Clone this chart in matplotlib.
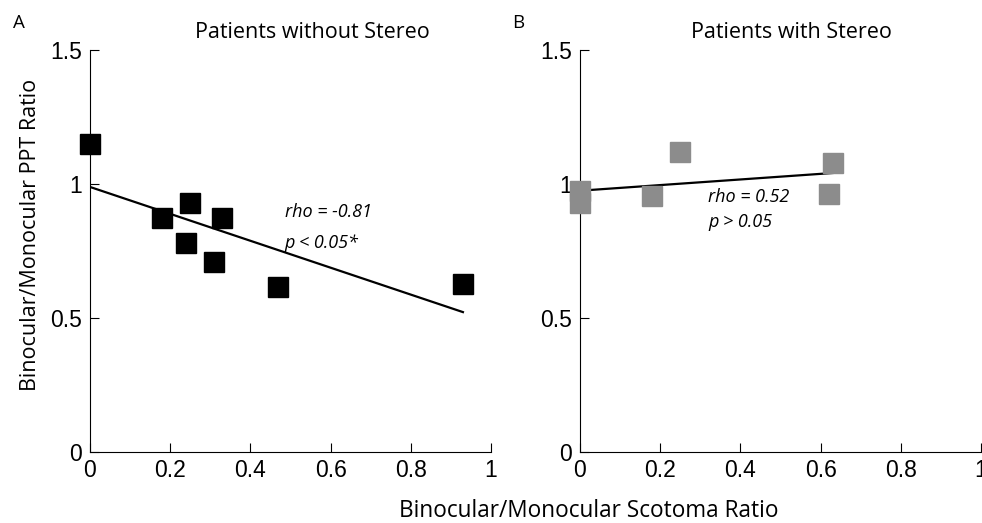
import matplotlib
matplotlib.use("Agg")
import matplotlib.pyplot as plt

# Panel A: patients without stereo
x_no_stereo = [0.0, 0.18, 0.25, 0.33, 0.24, 0.31, 0.47, 0.93]
y_no_stereo = [1.149, 0.874, 0.930, 0.874, 0.781, 0.708, 0.614, 0.628]
fit_no_stereo_x = [0.0, 0.93]
fit_no_stereo_y = [0.989, 0.522]

# Panel B: patients with stereo
x_stereo = [0.0, 0.0, 0.18, 0.25, 0.63, 0.62]
y_stereo = [0.975, 0.930, 0.954, 1.121, 1.078, 0.963]
fit_stereo_x = [0.0, 0.63]
fit_stereo_y = [0.975, 1.041]

x_ticks = [0, 0.2, 0.4, 0.6, 0.8, 1]
x_ticklabels = ["0", "0.2", "0.4", "0.6", "0.8", "1"]
y_ticks = [0, 0.5, 1, 1.5]
y_ticklabels = ["0", "0.5", "1", "1.5"]

LABEL_FONT = "Open Sans"
TICK_FONT = "Liberation Sans"

fig = plt.figure(figsize=(9.82, 5.23), dpi=100)
ax_a = fig.add_axes([90 / 982, 1 - 452 / 523, 401 / 982, 402 / 523])
ax_b = fig.add_axes([580 / 982, 1 - 452 / 523, 401 / 982, 402 / 523])


def style_axes(ax):
    ax.set_xlim(0, 1)
    ax.set_ylim(0, 1.5)
    ax.spines["top"].set_visible(False)
    ax.spines["right"].set_visible(False)
    ax.spines["left"].set_linewidth(0.8)
    ax.spines["bottom"].set_linewidth(0.8)
    ax.set_xticks(x_ticks)
    ax.set_xticklabels(x_ticklabels, fontfamily=TICK_FONT, fontsize=16.5)
    ax.set_yticks(y_ticks)
    ax.set_yticklabels(y_ticklabels, fontfamily=TICK_FONT, fontsize=16.5)
    ax.tick_params(direction="in", length=6.5, width=0.8)
    ax.tick_params(axis="x", pad=5)
    ax.tick_params(axis="y", pad=6)
    ax.patch.set_alpha(0)


style_axes(ax_a)
style_axes(ax_b)

ax_a.plot(fit_no_stereo_x, fit_no_stereo_y, color="black", lw=1.6, zorder=2)
ax_a.plot(x_no_stereo, y_no_stereo, ls="none", marker="s", ms=14.4,
          color="black", zorder=3, clip_on=False)

ax_b.plot(fit_stereo_x, fit_stereo_y, color="black", lw=1.6, zorder=2)
ax_b.plot(x_stereo, y_stereo, ls="none", marker="s", ms=14.4,
          color="#8c8c8c", zorder=3, clip_on=False)

stat_kw = dict(style="italic", fontfamily=LABEL_FONT, fontsize=13,
               ha="left", va="baseline")
ax_a.text(0.486, 0.876, "rho = -0.81", **stat_kw)
ax_a.text(0.486, 0.760, "p < 0.05*", **stat_kw)
ax_b.text(0.32, 0.934, "rho = 0.52", **stat_kw)
ax_b.text(0.32, 0.841, "p > 0.05", **stat_kw)

fig.text(312.5 / 982, 1 - 37.7 / 523, "Patients without Stereo",
         fontfamily=LABEL_FONT, fontsize=15.5, ha="center", va="baseline")
fig.text(791.3 / 982, 1 - 37.7 / 523, "Patients with Stereo",
         fontfamily=LABEL_FONT, fontsize=15.5, ha="center", va="baseline")
fig.text(13 / 982, 1 - 28 / 523, "A", fontfamily=LABEL_FONT, fontsize=13.5,
         ha="left", va="baseline")
fig.text(512 / 982, 1 - 28 / 523, "B", fontfamily=LABEL_FONT, fontsize=13.5,
         ha="left", va="baseline")
fig.text(589 / 982, 1 - 517 / 523, "Binocular/Monocular Scotoma Ratio",
         fontfamily=LABEL_FONT, fontsize=16.3, ha="center", va="baseline")
fig.text(31 / 982, 1 - 235 / 523, "Binocular/Monocular PPT Ratio",
         fontfamily=LABEL_FONT, fontsize=15.5, ha="center", va="center",
         rotation=90)

fig.savefig("out.png", dpi=100)
